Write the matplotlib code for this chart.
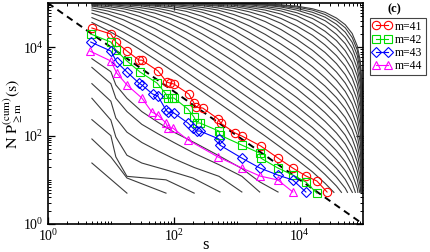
import matplotlib
matplotlib.use("Agg")
import matplotlib.pyplot as plt
from matplotlib.ticker import FixedLocator, LogFormatterMathtext, NullFormatter
import numpy as np

plt.rcParams['font.family'] = ['Liberation Serif', 'DejaVu Serif']
plt.rcParams['mathtext.fontset'] = 'stix'

# coloured series m=41..44 (s, N P)
s41 = [5, 10, 12, 18, 28, 31, 56, 77, 86, 100, 173, 208, 223, 288, 500, 557, 929, 1200, 2400, 4500, 7700, 12500, 18600, 27000]
p41 = [27200, 19900, 13100, 8200, 5100, 5100, 2900, 1630, 1550, 1470, 870, 550, 440, 420, 240, 190, 115, 98, 58, 31, 18.5, 12.2, 9.4, 5.3]

s42 = [4.8, 10, 12, 18, 29, 54, 75, 80, 93, 100, 167, 208, 232, 259, 518, 537, 1200, 2320, 2400, 4475, 7740, 12450, 18600]
p42 = [19900, 13100, 8650, 4880, 2750, 1550, 873, 710, 710, 710, 400, 264, 193, 193, 127, 103, 61, 40, 31, 18.5, 12.8, 8.9, 5.0]

s43 = [4.8, 10, 12.4, 18, 27.8, 31, 46, 55.7, 75, 80, 100, 167, 200, 232, 259, 518, 537, 1200, 2320, 4475, 7740, 12450]
p43 = [13100, 8200, 4620, 2750, 1550, 1400, 873, 787, 380, 342, 325, 193, 149, 127, 127, 84, 61, 31, 18.5, 12.8, 9.9, 5.3]

s44 = [4.65, 10, 12.4, 18, 31, 44.7, 55.7, 75, 80, 96, 167, 500, 1200, 2320, 4475, 7740]
p44 = [8200, 4880, 2610, 1400, 710, 342, 292, 193, 149, 149, 80, 33, 18.5, 12.2, 9.9, 5.3]

# grey curves for m<41: log10(s) grid and log10(N P) rows (bottom to top)
grid_exp = [0.70, 0.95, 1.20, 1.45, 1.70, 1.95, 2.20, 2.45, 2.70, 2.95, 3.20, 3.45, 3.70, 3.95,
            4.20, 4.40, 4.58, 4.72, 4.83, 4.91, 4.96, 4.99]
upper_rows = [
    [4.56, 4.38, 4.18, 3.96, 3.73, 3.49, 3.24, 3.00, 2.75, 2.50, 2.24, 1.99, 1.73, 1.46, 1.18, 0.92],
    [4.67, 4.52, 4.34, 4.14, 3.91, 3.68, 3.44, 3.19, 2.95, 2.70, 2.45, 2.19, 1.93, 1.66, 1.38, 1.12, 0.86],
    [4.77, 4.65, 4.49, 4.30, 4.09, 3.87, 3.63, 3.39, 3.15, 2.90, 2.64, 2.39, 2.13, 1.86, 1.57, 1.32, 1.06, 0.81],
    [4.84, 4.75, 4.62, 4.45, 4.26, 4.05, 3.82, 3.58, 3.34, 3.09, 2.84, 2.59, 2.33, 2.06, 1.78, 1.52, 1.26, 1.01],
    [4.89, 4.82, 4.72, 4.59, 4.42, 4.22, 4.00, 3.77, 3.54, 3.29, 3.04, 2.79, 2.53, 2.26, 1.98, 1.72, 1.46, 1.21, 0.93],
    [4.93, 4.88, 4.81, 4.70, 4.56, 4.38, 4.18, 3.96, 3.73, 3.49, 3.24, 2.99, 2.73, 2.46, 2.18, 1.92, 1.66, 1.41, 1.13, 0.81],
    [4.95, 4.92, 4.87, 4.79, 4.67, 4.52, 4.34, 4.14, 3.91, 3.68, 3.43, 3.18, 2.93, 2.66, 2.37, 2.12, 1.86, 1.61, 1.33, 1.01],
    [4.97, 4.95, 4.91, 4.85, 4.77, 4.65, 4.49, 4.30, 4.09, 3.87, 3.63, 3.38, 3.12, 2.86, 2.57, 2.32, 2.06, 1.81, 1.53, 1.21, 0.83],
    [4.98, 4.97, 4.94, 4.90, 4.84, 4.75, 4.62, 4.45, 4.26, 4.05, 3.81, 3.57, 3.32, 3.06, 2.77, 2.52, 2.26, 2.01, 1.73, 1.41, 1.03],
    [4.99, 4.98, 4.96, 4.94, 4.89, 4.82, 4.72, 4.59, 4.42, 4.22, 3.99, 3.76, 3.51, 3.25, 2.97, 2.72, 2.46, 2.21, 1.93, 1.61, 1.23],
    [4.99, 4.99, 4.98, 4.96, 4.93, 4.88, 4.81, 4.70, 4.56, 4.38, 4.17, 3.95, 3.71, 3.45, 3.17, 2.92, 2.66, 2.41, 2.13, 1.81, 1.43, 0.82],
    [5.00, 4.99, 4.99, 4.97, 4.95, 4.92, 4.87, 4.79, 4.67, 4.52, 4.33, 4.12, 3.89, 3.64, 3.36, 3.12, 2.86, 2.61, 2.33, 2.01, 1.63, 1.02],
    [5.00, 5.00, 4.99, 4.98, 4.97, 4.95, 4.91, 4.85, 4.77, 4.64, 4.48, 4.29, 4.07, 3.83, 3.56, 3.31, 3.05, 2.80, 2.52, 2.21, 1.83, 1.22],
    [5.00, 5.00, 4.99, 4.99, 4.98, 4.97, 4.94, 4.90, 4.84, 4.74, 4.61, 4.44, 4.24, 4.01, 3.75, 3.51, 3.25, 3.00, 2.72, 2.41, 2.03, 1.42],
    [5.00, 5.00, 5.00, 4.99, 4.99, 4.98, 4.96, 4.94, 4.89, 4.82, 4.72, 4.58, 4.40, 4.18, 3.93, 3.69, 3.44, 3.19, 2.92, 2.60, 2.22, 1.61],
    [5.00, 5.00, 5.00, 5.00, 4.99, 4.99, 4.98, 4.96, 4.93, 4.88, 4.80, 4.69, 4.54, 4.34, 4.10, 3.88, 3.63, 3.38, 3.11, 2.80, 2.42, 1.81],
    [5.00, 5.00, 5.00, 5.00, 5.00, 4.99, 4.99, 4.97, 4.95, 4.92, 4.86, 4.78, 4.65, 4.48, 4.27, 4.05, 3.81, 3.57, 3.30, 2.99, 2.61, 2.00],
    [5.00, 5.00, 5.00, 5.00, 5.00, 5.00, 4.99, 4.98, 4.97, 4.95, 4.90, 4.84, 4.75, 4.61, 4.41, 4.22, 3.99, 3.75, 3.49, 3.17, 2.80, 2.19],
    [5.00, 5.00, 5.00, 5.00, 5.00, 5.00, 5.00, 4.99, 4.98, 4.97, 4.93, 4.89, 4.82, 4.71, 4.54, 4.36, 4.15, 3.92, 3.66, 3.35, 2.98, 2.37],
    [5.00, 5.00, 5.00, 5.00, 5.00, 5.00, 5.00, 5.00, 4.99, 4.98, 4.96, 4.92, 4.87, 4.78, 4.65, 4.49, 4.29, 4.08, 3.83, 3.52, 3.15, 2.55],
    [5.00, 5.00, 5.00, 5.00, 5.00, 5.00, 5.00, 5.00, 5.00, 4.99, 4.97, 4.95, 4.91, 4.84, 4.73, 4.60, 4.42, 4.22, 3.98, 3.68, 3.31, 2.71],
    [5.00, 5.00, 5.00, 5.00, 5.00, 5.00, 5.00, 5.00, 5.00, 4.99, 4.98, 4.96, 4.93, 4.88, 4.79, 4.68, 4.52, 4.34, 4.11, 3.82, 3.46, 2.86],
    [5.00, 5.00, 5.00, 5.00, 5.00, 5.00, 5.00, 5.00, 5.00, 5.00, 4.98, 4.97, 4.95, 4.91, 4.84, 4.74, 4.60, 4.44, 4.22, 3.94, 3.58, 2.98],
    [5.00, 5.00, 5.00, 5.00, 5.00, 5.00, 5.00, 5.00, 5.00, 5.00, 4.99, 4.98, 4.96, 4.93, 4.87, 4.79, 4.66, 4.51, 4.31, 4.03, 3.68, 3.09],
]
upper_end_s = [34700, 45700, 56900, 68000, 75900, 83200, 89100, 92300, 95500, 96600,
               99000, 99000, 99000, 99000, 99000, 99000, 99000, 99000, 99000, 99000, 99000, 99000, 99000, 99000]
np_end = 5.2

# grey curves for m>44 (s, N P)
lower_s = [
    [5, 18],
    [5, 10, 18, 75],
    [5, 10, 12, 18, 75, 210],
    [5, 10, 12, 18, 31, 77, 200, 540],
    [5, 10, 12, 18, 31, 56, 100, 210, 520, 1200],
    [5, 10, 12, 18, 31, 56, 100, 210, 520, 1200, 2300],
    [5, 10, 12, 18, 31, 56, 100, 210, 520, 1200, 2300, 4500],
]
lower_np = [
    [24, 5.0],
    [84, 33, 11, 5.0],
    [230, 100, 33, 12, 10, 5.0],
    [700, 225, 93, 36, 24, 16.6, 11, 5.3],
    [1500, 600, 250, 120, 70, 45, 30, 19, 12, 5.3],
    [3500, 1500, 700, 350, 180, 110, 70, 40, 22, 12, 5.3],
    [5500, 2800, 1400, 700, 350, 200, 120, 70, 35, 18, 9, 5.3],
]

fig = plt.figure(figsize=(4.31, 2.52), dpi=100)
ax = fig.add_axes([0.111, 0.111, 0.731, 0.877])

grey = '#3c3c3c'
grid_s = 10 ** np.array(grid_exp)
for row, s_end in zip(upper_rows, upper_end_s):
    xs = list(grid_s[:len(row)]) + [s_end]
    ys = list(10 ** np.array(row)) + [np_end]
    ax.plot(xs, ys, color=grey, lw=0.8)

for xs, ys in zip(lower_s, lower_np):
    ax.plot(xs, ys, color=grey, lw=0.8)

# N P = N / s guide
ax.plot([1, 1e5], [1e5, 1], color='black', lw=1.4, ls=(0, (3.5, 2.5)))

mk = dict(ms=6, mfc='none', mew=0.8, lw=0.8)
ax.plot(s41, p41, color='red', marker='o', label='m=41', **mk)
ax.plot(s42, p42, color='#00dd00', marker='s', label='m=42', **mk)
ax.plot(s43, p43, color='blue', marker='D', label='m=43', **dict(mk, ms=5))
ax.plot(s44, p44, color='magenta', marker='^', label='m=44', **mk)

ax.set_xscale('log')
ax.set_yscale('log')
ax.set_xlim(1, 1e5)
ax.set_ylim(1, 1e5)

major = [1, 1e2, 1e4]
minor = [k * 10.0 ** d for d in range(0, 5) for k in range(1, 10) if not (k == 1 and d % 2 == 0)]
for axis in (ax.xaxis, ax.yaxis):
    axis.set_major_locator(FixedLocator(major))
    axis.set_major_formatter(LogFormatterMathtext())
    axis.set_minor_locator(FixedLocator(minor))
    axis.set_minor_formatter(NullFormatter())
ax.tick_params(which='both', direction='in', top=True, right=True, labelsize=10, pad=3)
ax.tick_params(which='major', length=5, width=0.9)
ax.tick_params(which='minor', length=2.5, width=0.7)
for sp in ax.spines.values():
    sp.set_linewidth(1.2)

ax.set_xlabel('s', fontsize=12)
ax.xaxis.set_label_coords(0.5, -0.06)
ax.set_ylabel(r'$\mathrm{N\ P}^{\mathrm{(cum)}}_{\geq \mathrm{m}}\mathrm{(s)}$', fontsize=11.5)
ax.yaxis.set_label_coords(-0.072, 0.5)

leg = ax.legend(loc='upper left', bbox_to_anchor=(0.858, 0.93), bbox_transform=fig.transFigure,
                borderaxespad=0, fontsize=8.5, numpoints=2, handlelength=1.6, handletextpad=0.3,
                labelspacing=0.1, borderpad=0.25, fancybox=False, framealpha=1, edgecolor='#444444')
leg.get_frame().set_linewidth(0.8)

fig.text(0.915, 0.985, '(c)', fontsize=9, fontweight='bold', ha='center', va='top')

fig.savefig('out.png', dpi=100)
